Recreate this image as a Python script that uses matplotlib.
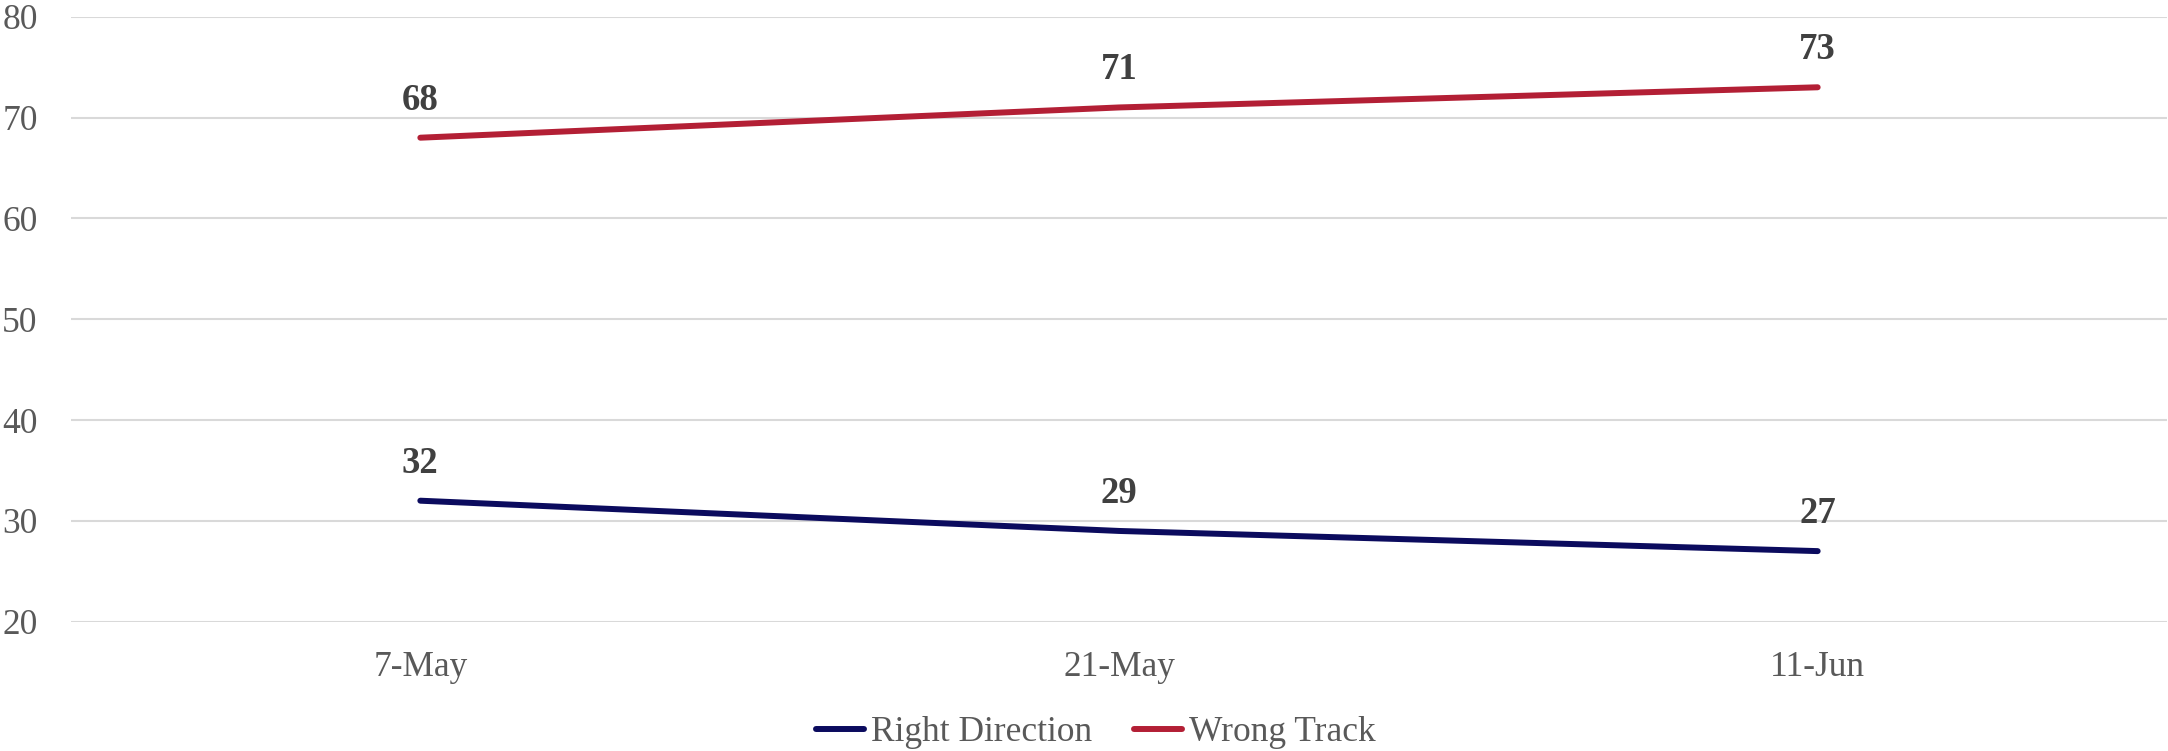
import matplotlib
matplotlib.use("Agg")
import matplotlib.pyplot as plt
from matplotlib.lines import Line2D

categories = ["7-May", "21-May", "11-Jun"]
right_direction = [32, 29, 27]
wrong_track = [68, 71, 73]
series_names = ["Right Direction", "Wrong Track"]
yticks = [20, 30, 40, 50, 60, 70, 80]

navy = "#0B0B5E"
red = "#B31F35"
tick_color = "#595959"
label_color = "#404040"

plt.rcParams['font.family'] = ['Liberation Serif', 'DejaVu Serif']

fig = plt.figure(figsize=(21.68, 7.51), dpi=100)
ax = fig.add_axes([71/2168, 1 - 621.7/751, (2167-71)/2168, (621.7-16.7)/751])

x = list(range(len(categories)))
ax.plot(x, right_direction, color=navy, lw=4.3, solid_capstyle='round', zorder=3)
ax.plot(x, wrong_track, color=red, lw=4.3, solid_capstyle='round', zorder=3)

for xi, v in zip(x, right_direction):
    ax.annotate(str(v), (xi, v), xytext=(0, 27), textcoords='offset points',
                ha='center', va='center', fontsize=26.5, fontweight='bold', color=label_color)
for xi, v in zip(x, wrong_track):
    ax.annotate(str(v), (xi, v), xytext=(0, 27), textcoords='offset points',
                ha='center', va='center', fontsize=26.5, fontweight='bold', color=label_color)

ax.set_xlim(-0.5, len(categories) - 0.5)
ax.set_ylim(20, 80)
ax.set_yticks(yticks)
ax.set_xticks(x)
ax.set_xticklabels(categories)
ax.tick_params(axis='both', length=0, labelsize=25.5, colors=tick_color)
ax.tick_params(axis='y', pad=24)
ax.tick_params(axis='x', pad=21)
ax.grid(axis='y', color='#D9D9D9', lw=1.5)
ax.set_axisbelow(True)
for s in ax.spines.values():
    s.set_visible(False)

handles = [Line2D([], [], color=navy, lw=4.3, solid_capstyle='round'),
           Line2D([], [], color=red, lw=4.3, solid_capstyle='round')]
fig.legend(handles, series_names, loc='center', bbox_to_anchor=(0.5055, 0.024),
           ncol=2, frameon=False, fontsize=25.5, labelcolor=tick_color,
           handlelength=1.35, handletextpad=0.2, columnspacing=1.2)

fig.savefig("out.png", dpi=100)
